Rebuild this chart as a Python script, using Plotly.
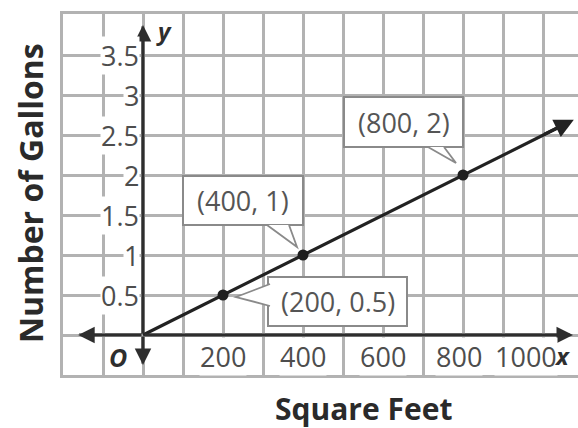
import plotly.graph_objects as go

# ---- data ----
x_pts = [200, 400, 800]
y_pts = [0.5, 1, 2]
pt_labels = ["(200, 0.5)", "(400, 1)", "(800, 2)"]
line_end = (1077, 2.69)
x_ticks = [200, 400, 600, 800, 1000]
x_tick_text = ["200", "400", "600", "800", "1000"]
y_ticks = [0.5, 1, 1.5, 2, 2.5, 3, 3.5]
y_tick_text = ["0.5", "1", "1.5", "2", "2.5", "3", "3.5"]
x_title = "Square Feet"
y_title = "Number of Gallons"

# ---- geometry ----
W, H = 578, 428
ML, MR, MT, MB = 63, 0, 14, 53
PW, PH = W - ML - MR, H - MT - MB
XMIN, YMIN = -200, -0.5
PXX = 0.4   # pixels per x unit
PXY = 80.0  # pixels per y unit
XMAX = XMIN + PW / PXX
YMAX = YMIN + PH / PXY


def dx(p):
    return p / PXX


def dy(p):
    return -p / PXY


GRID = "#b2b2b2"
AX = "#2e2e2e"
TXT = "#4d4d4d"
FONT = "Open Sans"

fig = go.Figure()

# line through the points
fig.add_trace(go.Scatter(
    x=[0] + x_pts + [line_end[0] - 20],
    y=[0] + y_pts + [line_end[1] - 20 * line_end[1] / line_end[0]],
    mode="lines", line=dict(color="#222222", width=3.2),
    hoverinfo="skip", showlegend=False))
fig.add_trace(go.Scatter(
    x=x_pts, y=y_pts, mode="markers",
    marker=dict(color="#1e1e1e", size=11),
    hoverinfo="skip", showlegend=False))

shapes = []
annotations = []

# callouts (pixel offsets relative to the point)
callouts = [
    dict(box=(45, 184, -18, 31), wedge=[(47, -11), (13, 2), (47, 11)]),
    dict(box=(-120, 0, -79, -30), wedge=[(-36, -30), (-6, -8), (-14, -30)]),
    dict(box=(-119, 0, -78, -28), wedge=[(-35, -28), (-7, -12), (-19, -28)]),
]
for xp, yp, lab, c in zip(x_pts, y_pts, pt_labels, callouts):
    x0, x1, y0, y1 = c["box"]
    shapes.append(dict(type="rect", xref="x", yref="y",
                       x0=xp + dx(x0), x1=xp + dx(x1),
                       y0=yp + dy(y0), y1=yp + dy(y1),
                       fillcolor="white", line=dict(color="#8a8a8a", width=2),
                       layer="above"))
    pts = [(xp + dx(a), yp + dy(b)) for a, b in c["wedge"]]
    path = "M {} {} L {} {} L {} {}".format(pts[0][0], pts[0][1], pts[1][0], pts[1][1], pts[2][0], pts[2][1])
    shapes.append(dict(type="path", xref="x", yref="y", path=path,
                       fillcolor="white", line=dict(color="#8a8a8a", width=1.8),
                       layer="above"))
    annotations.append(dict(x=xp + dx((x0 + x1) / 2), y=yp + dy((y0 + y1) / 2),
                            xref="x", yref="y", text=lab, showarrow=False,
                            font=dict(family=FONT, size=27, color="#555555"),
                            xanchor="center", yanchor="middle"))

# axis arrows
for tip in [(line_end[0] - 2, 0), (-162, 0), (0, 3.875), (0, -0.375)]:
    annotations.append(dict(x=tip[0], y=tip[1], ax=0, ay=0, axref="x", ayref="y",
                            xref="x", yref="y", text="", showarrow=True,
                            arrowhead=2, arrowsize=1.1, arrowwidth=3,
                            arrowcolor=AX))
# line arrow
annotations.append(dict(x=line_end[0], y=line_end[1], ax=1000, ay=2.5,
                        axref="x", ayref="y", xref="x", yref="y", text="",
                        showarrow=True, arrowhead=2, arrowsize=1.2,
                        arrowwidth=3.2, arrowcolor="#222222"))

# tick labels
xshift = {800: -4, 1000: -17}
for v, t in zip(x_ticks, x_tick_text):
    annotations.append(dict(x=v, y=0, xref="x", yref="y", text=t, showarrow=False,
                            yshift=-21, xshift=xshift.get(v, 0),
                            font=dict(family=FONT, size=27, color=TXT),
                            bgcolor="white", borderpad=0,
                            xanchor="center", yanchor="middle"))
for v, t in zip(y_ticks, y_tick_text):
    annotations.append(dict(x=0, y=v, xref="x", yref="y", text=t, showarrow=False,
                            xshift=-3, font=dict(family=FONT, size=27, color=TXT),
                            bgcolor="white", borderpad=0,
                            xanchor="right", yanchor="middle"))
annotations.append(dict(x=0, y=0, xref="x", yref="y", text="<b><i>O</i></b>",
                        showarrow=False, xshift=-14, yshift=-22,
                        font=dict(family=FONT, size=25, color=AX),
                        xanchor="right", yanchor="middle"))
annotations.append(dict(x=0, y=0, xref="x", yref="y", text="<b><i>x</i></b>",
                        showarrow=False, xshift=562 - 143, yshift=-20,
                        font=dict(family=FONT, size=24, color=AX),
                        xanchor="center", yanchor="middle"))
annotations.append(dict(x=0, y=0, xref="x", yref="y", text="<b><i>y</i></b>",
                        showarrow=False, xshift=164 - 143, yshift=335 - 30,
                        font=dict(family=FONT, size=24, color=AX),
                        xanchor="center", yanchor="middle"))

# axis titles
annotations.append(dict(x=(363 - ML) / PW, y=(H - MB - 408) / PH, xref="paper", yref="paper",
                        text="<b>" + x_title + "</b>", showarrow=False,
                        font=dict(family=FONT, size=30, color="#2a2a2a"),
                        xanchor="center", yanchor="middle"))
annotations.append(dict(x=(30 - ML) / PW, y=(H - MB - 193) / PH, xref="paper", yref="paper",
                        text="<b>" + y_title + "</b>", showarrow=False, textangle=-90,
                        font=dict(family=FONT, size=32, color="#2a2a2a"),
                        xanchor="center", yanchor="middle"))

# dark axis lines
shapes.append(dict(type="line", xref="x", yref="y", x0=-160, x1=line_end[0] - 10,
                   y0=0, y1=0, line=dict(color=AX, width=3), layer="below"))
shapes.append(dict(type="line", xref="x", yref="y", x0=0, x1=0,
                   y0=-0.36, y1=3.86, line=dict(color=AX, width=3), layer="below"))

fig.update_layout(
    width=W, height=H,
    margin=dict(l=ML, r=MR, t=MT, b=MB),
    paper_bgcolor="white", plot_bgcolor="white",
    showlegend=False,
    shapes=shapes, annotations=annotations,
    xaxis=dict(range=[XMIN, XMAX], tick0=0, dtick=100, showticklabels=False,
               ticks="", showgrid=True, gridcolor=GRID, gridwidth=3,
               zeroline=False, showline=True, mirror=True,
               linecolor=GRID, linewidth=3, fixedrange=True),
    yaxis=dict(range=[YMIN, YMAX], tick0=0, dtick=0.5, showticklabels=False,
               ticks="", showgrid=True, gridcolor=GRID, gridwidth=3,
               zeroline=False, showline=True, mirror=False,
               linecolor=GRID, linewidth=3, fixedrange=True),
)

fig.write_html("out.html", config={"displayModeBar": False},
               post_script="document.body.style.margin='0px';document.body.style.overflow='hidden';")
